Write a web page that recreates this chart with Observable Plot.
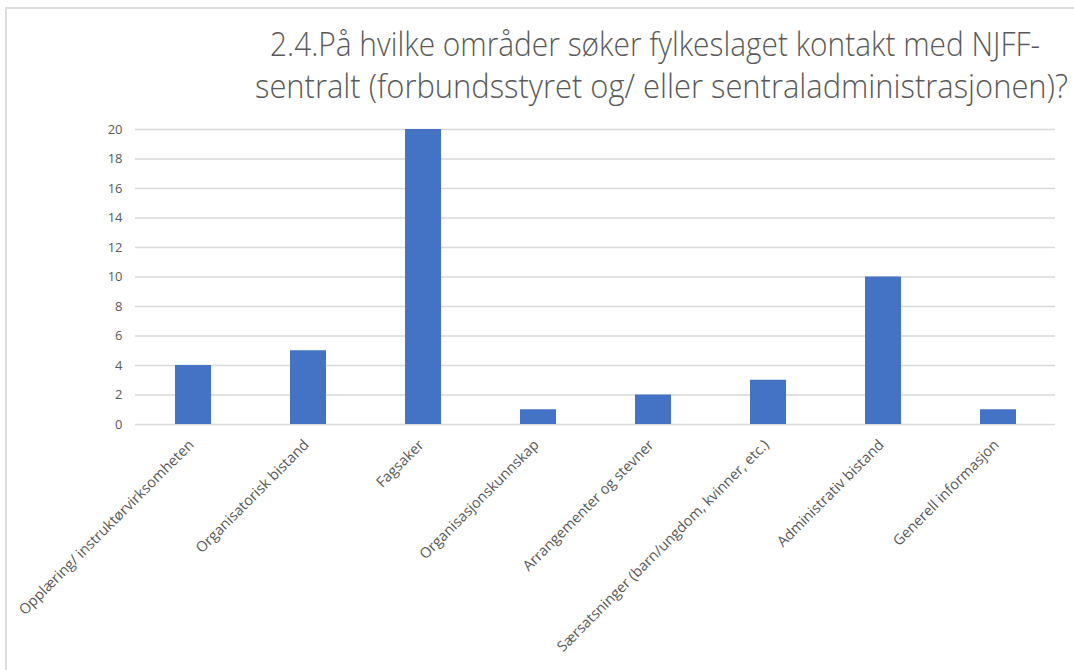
<!DOCTYPE html>
<html>
<head>
<meta charset="utf-8">
<script src="https://cdn.jsdelivr.net/npm/d3@7"></script>
<script src="https://cdn.jsdelivr.net/npm/@observablehq/plot@0.6"></script>
<style>
  html, body { margin: 0; padding: 0; background: #fff; }
  #wrap { position: relative; width: 1074px; height: 670px; overflow: hidden; background: #fff; }
  #frame { position: absolute; left: 5px; top: 7px; width: 1200px; height: 800px;
           border-left: 2px solid #dcdcdc; border-top: 2px solid #dcdcdc; }
  #title { position: absolute; left: 0; top: 0; width: 1074px; height: 110px;
           font-family: "Open Sans", sans-serif; font-weight: 300; color: #595959; }
  #title div { white-space: nowrap; position: absolute; transform-origin: 0 0; line-height: 1; }
  #chart { position: absolute; left: 0; top: 110px; }
</style>
</head>
<body>
<div id="wrap">
  <div id="frame"></div>
  <div id="title"></div>
  <div id="chart"></div>
</div>
<script>
const titleLines = [
  "2.4.På hvilke områder søker fylkeslaget kontakt med NJFF-",
  "sentralt (forbundsstyret og/ eller sentraladministrasjonen)?"
];
const categories = [
  "Opplæring/ instruktørvirksomheten",
  "Organisatorisk bistand",
  "Fagsaker",
  "Organisasjonskunnskap",
  "Arrangementer og stevner",
  "Særsatsninger (barn/ungdom, kvinner, etc.)",
  "Administrativ bistand",
  "Generell informasjon"
];
const values = [4, 5, 20, 1, 2, 3, 10, 1];
const yTicks = [0, 2, 4, 6, 8, 10, 12, 14, 16, 18, 20];

const data = categories.map((c, i) => ({category: c, value: values[i]}));

// Title: condensed look, fitted to reference extents
const titleEl = document.getElementById("title");
const fs = 33;
const lineSpecs = [{left: 270, right: 1040, top: 27}, {left: 255, right: 1068, top: 69}];
titleLines.forEach((t, i) => {
  const d = document.createElement("div");
  d.textContent = t;
  d.style.fontSize = fs + "px";
  d.style.top = lineSpecs[i].top + "px";
  d.style.left = lineSpecs[i].left + "px";
  titleEl.appendChild(d);
  const w = d.getBoundingClientRect().width;
  d.style.transform = `scaleX(${(lineSpecs[i].right - lineSpecs[i].left) / w})`;
});

const chart = Plot.plot({
  width: 1074,
  height: 560,
  marginLeft: 135,
  marginRight: 19,
  marginTop: 19,
  marginBottom: 246,
  style: {fontFamily: "Open Sans, sans-serif", fontSize: "13px", color: "#595959", background: "transparent"},
  x: {domain: categories, paddingInner: 0.687, paddingOuter: 0.3435, label: null},
  y: {domain: [0, 20], ticks: yTicks, label: null},
  marks: [
    Plot.gridY(yTicks, {stroke: "#d9d9d9", strokeOpacity: 1, strokeWidth: 1.5}),
    Plot.barY(data, {x: "category", y: "value", fill: "#4472c4"}),
    Plot.axisY({ticks: yTicks, tickSize: 0, tickPadding: 13, label: null, fill: "#595959", fontSize: 13}),
    Plot.axisX({tickSize: 0, tickRotate: -45, tickPadding: 18, dx: -2, label: null, fill: "#595959", fontSize: 14.5})
  ]
});
document.getElementById("chart").appendChild(chart);
</script>
</body>
</html>
